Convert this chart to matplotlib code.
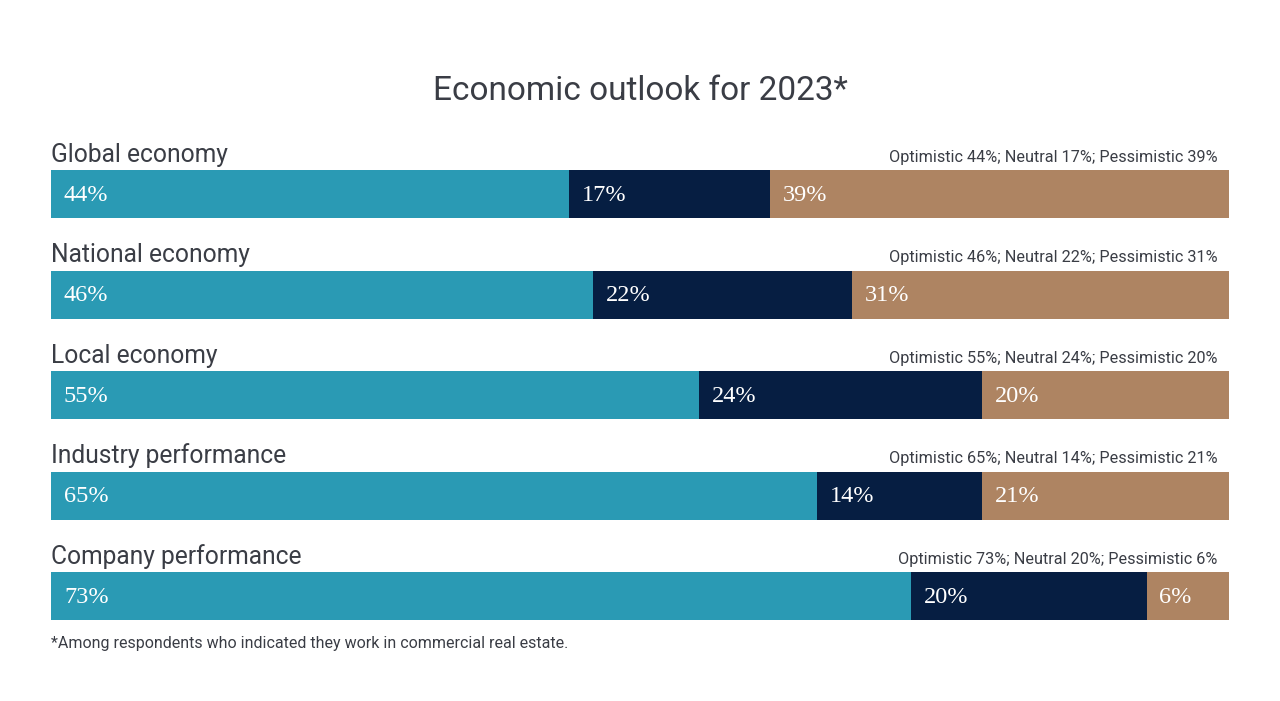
import matplotlib.pyplot as plt

categorias = ["Global economy", "National economy", "Local economy",
              "Industry performance", "Company performance"]
otimista = [44, 46, 55, 65, 73]
neutro = [17, 22, 24, 14, 20]
pessimista = [39, 31, 20, 21, 6]

cor_otimista = "#2A9AB4"
cor_neutro = "#061E42"
cor_pessimista = "#AE8462"
cor_texto = "#3A3D45"

sans = ["Roboto", "DejaVu Sans"]
serif = ["Liberation Serif", "DejaVu Serif"]

fig = plt.figure(figsize=(12.8, 7.01), dpi=100)
# eixo: x 0..100 -> pixels 51..1229, linhas centradas em 194 + i*100.5
ax = fig.add_axes([51 / 1280, (701 - 646.25) / 701, 1178 / 1280, 502.5 / 701])
ax.set_xlim(0, 100)
ax.set_ylim(4.5, -0.5)
ax.axis("off")

altura = 48 / 100.5
dx = 1.1

for i, cat in enumerate(categorias):
    o, n, p = otimista[i], neutro[i], pessimista[i]
    ax.barh(i, o, height=altura, left=0, color=cor_otimista)
    ax.barh(i, n, height=altura, left=o, color=cor_neutro)
    # o último segmento ocupa o resto da barra
    ax.barh(i, 100 - o - n, height=altura, left=o + n, color=cor_pessimista)

    for ini, val in [(0, o), (o, n), (o + n, p)]:
        ax.text(ini + dx, i + 0.01, f"{val}%", color="white", fontsize=17.5,
                family=serif, va="center", ha="left")

    topo = i - altura / 2 - 0.08
    ax.text(0, topo, cat, fontsize=17.7, family=sans,
            color=cor_texto, va="baseline", ha="left")
    ax.text(99.0, topo, f"Optimistic {o}%; Neutral {n}%; Pessimistic {p}%",
            fontsize=11.7, family=sans, color=cor_texto,
            va="baseline", ha="right")

fig.text(0.5, 1 - 100 / 701, "Economic outlook for 2023*", fontsize=24,
         family=sans, color=cor_texto, ha="center", va="baseline")
fig.text(51 / 1280, 1 - 648 / 701,
         "*Among respondents who indicated they work in commercial real estate.",
         fontsize=11.5, family=sans, color=cor_texto, ha="left", va="baseline")

plt.savefig("out.png", dpi=100)
